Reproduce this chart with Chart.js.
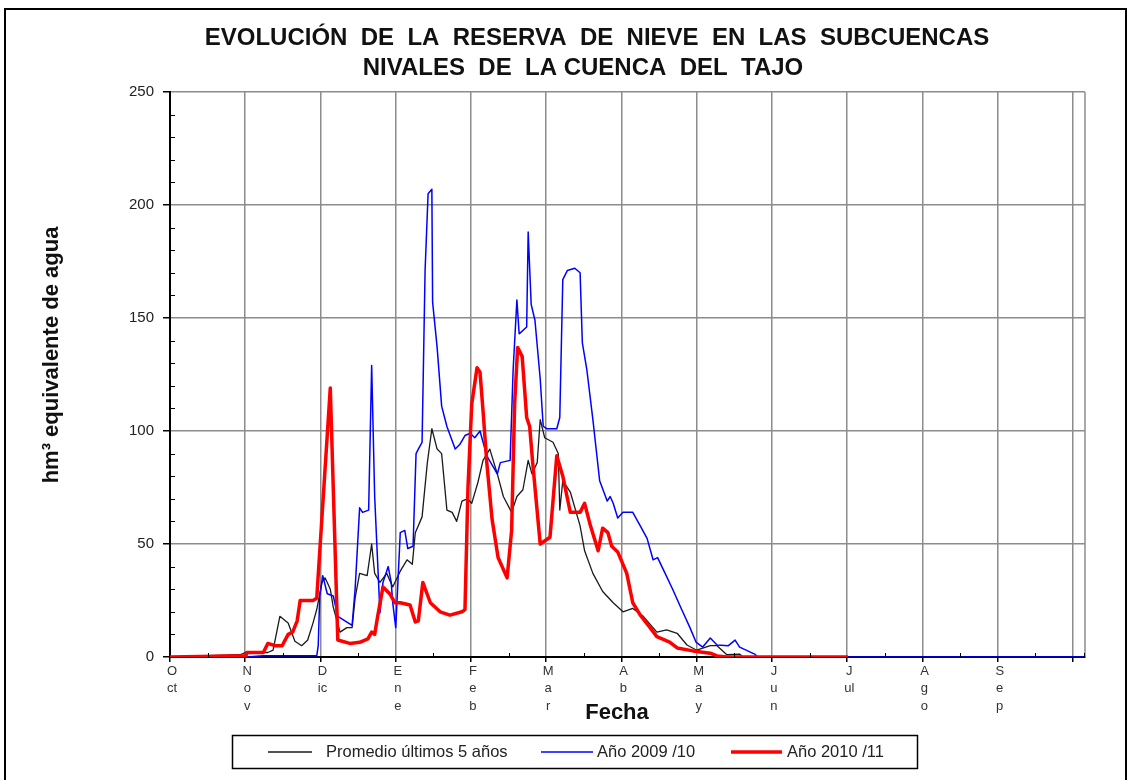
<!DOCTYPE html>
<html>
<head>
<meta charset="utf-8">
<script src="https://cdn.jsdelivr.net/npm/chart.js@4"></script>
<style>
    body { margin: 0; background: #fff; }
    #marco { position: absolute; left: 4px; top: 8px; width: 1123px; height: 800px; border: 2px solid #000; box-sizing: border-box; }
    #contenedor { position: absolute; left: 0; top: 0; width: 1130px; height: 780px; }
</style>
</head>
<body>
<div id="marco"></div>
<div id="contenedor"><canvas id="chartNieve"></canvas></div>
<script>
// Eje X en meses desde el 1 de octubre (0 = Oct, 1 = Nov, ...)
const meses = ['Oct', 'Nov', 'Dic', 'Ene', 'Feb', 'Mar', 'Abr', 'May', 'Jun', 'Jul', 'Ago', 'Sep'];
const etiquetasMes = [['O', 'ct'], ['N', 'o', 'v'], ['D', 'ic'], ['E', 'n', 'e'], ['F', 'e', 'b'], ['M', 'a', 'r'],
    ['A', 'b'], ['M', 'a', 'y'], ['J', 'u', 'n'], ['J', 'ul'], ['A', 'g', 'o'], ['S', 'e', 'p'], ''];
const ticksY = [0, 50, 100, 150, 200, 250];

const titulo = ['EVOLUCIÓN  DE  LA  RESERVA  DE  NIEVE  EN  LAS  SUBCUENCAS', 'NIVALES  DE  LA CUENCA  DEL  TAJO'];

// Promedio últimos 5 años
const fechasPromedio = [0, 0.93, 1.01, 1.30, 1.37, 1.46, 1.57, 1.66, 1.75, 1.83, 1.90, 1.95, 2.02, 2.06, 2.09, 2.13, 2.17,
    2.26, 2.35, 2.42, 2.46, 2.52, 2.62, 2.68, 2.72, 2.79, 2.88, 2.96, 3.06, 3.15, 3.22, 3.26, 3.35, 3.42, 3.48, 3.55,
    3.61, 3.68, 3.75, 3.81, 3.88, 3.95, 4.01, 4.09, 4.16, 4.25, 4.35, 4.43, 4.54, 4.61, 4.69, 4.76, 4.81, 4.88, 4.92,
    4.98, 5.09, 5.16, 5.18, 5.22, 5.32, 5.45, 5.51, 5.62, 5.75, 5.89, 6.02, 6.15, 6.29, 6.47, 6.60, 6.74, 6.87, 7.00,
    7.18, 7.27, 7.40, 7.57, 7.61, 9.01];
const valoresPromedio = [0, 1, 2, 2, 3, 18, 15, 7, 5, 7.5, 15, 21, 33, 35, 33, 30, 22,
    11, 13, 13, 26, 37, 36, 50, 37, 33, 37, 31, 38, 43, 41, 55, 62, 86, 101, 92,
    90, 65, 64, 60, 69, 70, 68, 77, 87, 92, 81, 71, 64, 71, 74, 87, 81, 86, 105,
    97, 95, 90, 65, 78, 73, 58, 47, 37, 29, 24, 20, 21.5, 18, 11, 12, 10.5, 5.3, 3,
    5, 5, 1, 1.3, 0, 0];

// Año 2009/10
const fechas0910 = [0, 1.01, 1.24, 1.95, 1.97, 1.99, 2.03, 2.09, 2.17, 2.23, 2.42, 2.46, 2.52, 2.56, 2.64, 2.68, 2.72,
    2.79, 2.83, 2.90, 2.94, 2.96, 3.00, 3.06, 3.12, 3.16, 3.23, 3.27, 3.30, 3.35, 3.39, 3.43, 3.48, 3.49, 3.55, 3.61,
    3.68, 3.79, 3.85, 3.92, 3.99, 4.05, 4.12, 4.21, 4.35, 4.39, 4.52, 4.56, 4.61, 4.64, 4.74, 4.76, 4.80, 4.85, 4.92,
    4.96, 5.01, 5.14, 5.18, 5.22, 5.28, 5.38, 5.45, 5.48, 5.54, 5.62, 5.71, 5.81, 5.85, 5.89, 5.95, 6.02, 6.15, 6.25,
    6.34, 6.42, 6.48, 6.58, 6.68, 6.80, 6.91, 6.99, 7.08, 7.18, 7.27, 7.42, 7.51, 7.57, 7.77, 7.81, 12.16];
const valores0910 = [0, 0, 0.5, 0.5, 5, 27, 36, 28, 27, 18, 14, 30, 66, 64, 65, 129, 71,
    19.5, 33, 40, 33, 24, 13, 55, 56, 48, 49, 90, 92, 95, 171, 205, 207, 157, 137, 111,
    102, 92, 94, 98, 99, 97, 100, 89, 81, 86, 87, 127, 158, 143, 146, 188, 156, 149, 123,
    102, 101, 101, 106, 167, 171, 172, 170, 139, 127, 105, 78, 69, 71, 68, 61.5, 64, 64, 58,
    52.5, 43, 44, 37, 30, 21, 13, 6.6, 4.4, 8.4, 5.3, 5, 7.5, 4.4, 1.3, 0, 0];

// Año 2010/11
const fechas1011 = [0, 1.01, 1.02, 1.24, 1.30, 1.40, 1.49, 1.57, 1.63, 1.69, 1.73, 1.90, 1.95, 2.13, 2.23, 2.39, 2.52,
    2.63, 2.68, 2.72, 2.76, 2.83, 2.92, 2.99, 3.06, 3.19, 3.26, 3.30, 3.36, 3.46, 3.59, 3.72, 3.88, 3.92, 3.96, 4.01,
    4.08, 4.12, 4.16, 4.21, 4.28, 4.36, 4.48, 4.54, 4.58, 4.62, 4.68, 4.74, 4.78, 4.82, 4.92, 5.05, 5.14, 5.22, 5.32,
    5.45, 5.51, 5.58, 5.69, 5.75, 5.82, 5.87, 5.95, 6.07, 6.15, 6.25, 6.38, 6.47, 6.64, 6.74, 6.95, 7.18, 7.27, 7.40, 9.01];
const valores1011 = [0, 0.5, 2, 2, 6, 5, 5, 10, 11, 16, 25, 25, 26, 119, 7.5, 6, 6.5,
    8, 11, 10, 18, 31, 28, 24, 24, 23, 15.5, 16, 33, 24, 20, 18.5, 20, 21, 75, 112,
    128, 126, 109, 86, 61, 44, 35, 56, 112, 137, 133, 106, 102, 86, 50, 53, 89, 80, 64,
    64, 68, 59, 47, 57, 55, 49, 46.5, 37, 24, 18.5, 13, 9, 6.6, 4, 2.7, 1.7, 0.5, 0, 0];

const pares = (xs, ys) => xs.map((x, i) => ({ x: x, y: ys[i] }));

Chart.defaults.font.family = "'Liberation Sans', Arial, sans-serif";

// Marcas menores, borde derecho, títulos y leyenda
const decoracion = {
    id: 'decoracion',
    beforeDatasetsDraw(chart) {
        const { ctx, chartArea } = chart;
        ctx.save();
        ctx.strokeStyle = '#8c8c8c';
        ctx.lineWidth = 1.5;
        ctx.beginPath();
        ctx.moveTo(chartArea.right, chartArea.top);
        ctx.lineTo(chartArea.right, chartArea.bottom);
        ctx.stroke();
        ctx.restore();
    },
    afterDraw(chart) {
        const { ctx, chartArea, scales } = chart;
        ctx.save();
        ctx.strokeStyle = '#000';
        ctx.lineWidth = 1;
        ctx.beginPath();
        for (let v = 10; v < 250; v += 10) {
            if (v % 50 === 0) continue;
            const y = Math.round(scales.y.getPixelForValue(v)) + 0.5;
            ctx.moveTo(chartArea.left, y);
            ctx.lineTo(chartArea.left + 5, y);
        }
        for (let m = 0.5; m < 12; m += 1) {
            const x = Math.round(scales.x.getPixelForValue(m)) + 0.5;
            ctx.moveTo(x, chartArea.bottom);
            ctx.lineTo(x, chartArea.bottom - 4);
        }
        ctx.moveTo(chartArea.right - 0.5, chartArea.bottom);
        ctx.lineTo(chartArea.right - 0.5, chartArea.bottom - 4);
        ctx.stroke();

        // título
        ctx.fillStyle = '#111';
        ctx.textAlign = 'center';
        ctx.textBaseline = 'middle';
        ctx.font = "bold 24px 'Liberation Sans', Arial, sans-serif";
        ctx.fillText(titulo[0], 597, 38);
        ctx.fillText(titulo[1], 583, 68);

        // títulos de ejes
        ctx.font = "bold 22px 'Liberation Sans', Arial, sans-serif";
        ctx.save();
        ctx.translate(52, 355);
        ctx.rotate(-Math.PI / 2);
        ctx.fillText('hm³ equivalente de agua', 0, 0);
        ctx.restore();
        ctx.font = "bold 22px 'Liberation Sans', Arial, sans-serif";
        ctx.fillText('Fecha', 617, 713);

        // leyenda
        ctx.strokeStyle = '#000';
        ctx.lineWidth = 1.5;
        ctx.strokeRect(232.5, 735.5, 685, 33);
        const items = [
            { ds: chart.data.datasets[0], x0: 268, x1: 312, tx: 326 },
            { ds: chart.data.datasets[1], x0: 541, x1: 593, tx: 597 },
            { ds: chart.data.datasets[2], x0: 731, x1: 782, tx: 787 }
        ];
        ctx.font = "16.5px 'Liberation Sans', Arial, sans-serif";
        ctx.textAlign = 'left';
        items.forEach(it => {
            ctx.strokeStyle = it.ds.borderColor;
            ctx.lineWidth = it.ds.borderWidth;
            ctx.beginPath();
            ctx.moveTo(it.x0, 752);
            ctx.lineTo(it.x1, 752);
            ctx.stroke();
            ctx.fillStyle = '#222';
            ctx.fillText(it.ds.label, it.tx, 752);
        });
        ctx.restore();
    }
};

const ctx = document.getElementById('chartNieve');

new Chart(ctx, {
    type: 'line',
    data: {
        datasets: [
            {
                label: 'Promedio últimos 5 años',
                data: pares(fechasPromedio, valoresPromedio),
                borderColor: '#1a1a1a',
                borderWidth: 1.3,
                order: 3
            },
            {
                label: 'Año 2009 /10',
                data: pares(fechas0910, valores0910),
                borderColor: '#0000ff',
                borderWidth: 1.5,
                order: 2
            },
            {
                label: 'Año 2010 /11',
                data: pares(fechas1011, valores1011),
                borderColor: '#ff0000',
                borderWidth: 3.5,
                order: 1
            }
        ]
    },
    options: {
        responsive: true,
        maintainAspectRatio: false,
        animation: false,
        elements: {
            point: { radius: 0 },
            line: { tension: 0, fill: false, borderJoinStyle: 'round' }
        },
        layout: {
            padding: { top: 92, right: 45, left: 0, bottom: 0 }
        },
        plugins: {
            legend: { display: false },
            tooltip: { enabled: false }
        },
        scales: {
            x: {
                type: 'linear',
                min: 0,
                max: 12.16,
                afterBuildTicks: scale => {
                    scale.ticks = etiquetasMes.map((_, i) => ({ value: i }));
                },
                afterFit: scale => { scale.height = 123; },
                ticks: {
                    callback: (value, index) => etiquetasMes[index],
                    autoSkip: false,
                    maxRotation: 0,
                    padding: 0,
                    labelOffset: 2,
                    color: '#333',
                    font: { size: 13, lineHeight: 1.38 }
                },
                grid: { color: '#8c8c8c', lineWidth: 1.5, tickLength: 5, tickColor: '#000', tickWidth: 1.5 },
                border: { color: '#000', width: 2 }
            },
            y: {
                min: 0,
                max: 250,
                afterBuildTicks: scale => {
                    scale.ticks = ticksY.map(v => ({ value: v }));
                },
                afterFit: scale => { scale.width = 170; },
                ticks: {
                    padding: 9,
                    color: '#222',
                    font: { size: 15 }
                },
                grid: { color: '#8c8c8c', lineWidth: 1.5, tickLength: 7, tickColor: '#000', tickWidth: 1.5 },
                border: { color: '#000', width: 2 }
            }
        }
    },
    plugins: [decoracion]
});
</script>
</body>
</html>
